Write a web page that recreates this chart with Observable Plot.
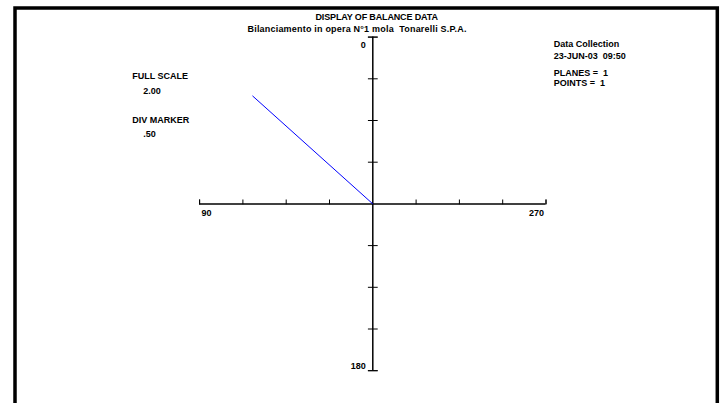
<!DOCTYPE html>
<html><head><meta charset="utf-8">
<script src="https://cdn.jsdelivr.net/npm/d3@7"></script>
<script src="https://cdn.jsdelivr.net/npm/@observablehq/plot@0.6"></script>
<style>body{margin:0;background:#fff}#chart svg{display:block}</style>
</head><body><div id="chart"></div>
<script>
// ---- data ----
const titleText = "DISPLAY OF BALANCE DATA";
const subtitleText = "Bilanciamento in opera N°1 mola  Tonarelli S.P.A.";
const angleLabels = ["0", "90", "180", "270"];
const labelAngles = [0, 90, 180, 270];
const fullScale = 2.00;
const divMarker = 0.50;
const pointAngles = [47];       // degrees, 0 at top, 90 to the left
const pointAmplitudes = [1.90];
const infoLines = ["Data Collection", "23-JUN-03  09:50", "PLANES =  1", "POINTS =  1"];
const scaleLines = ["FULL SCALE", d3.format(".2f")(fullScale), "DIV MARKER", d3.format(".2f")(divMarker).replace(/^0/, "")];

// ---- layout ----
const W = 722, H = 403;
const cx = 372.3, cy = 203.4;          // pixel centre of the polar cross
const pxX = 86.6, pxY = 83.4;          // pixels per unit
const rad = Math.PI / 180;
const toX = (a, r) => -r * Math.sin(a * rad);
const toY = (a, r) => r * Math.cos(a * rad);

const points = pointAngles.map((a, i) => ({a, r: pointAmplitudes[i]}));
const labels = angleLabels.map((t, i) => ({t, a: labelAngles[i]}));
const ticks = d3.range(-fullScale, fullScale + 1e-9, divMarker).filter(v => Math.abs(v) > 1e-9);

const font = "'Liberation Sans', Arial, Helvetica, sans-serif";
const tickShape = {draw(ctx, l) { ctx.moveTo(0, 0); ctx.lineTo(0, -l); }};

const leftPos = [[131.7, 75.7], [142.7, 91], [131.7, 119.3], [142.7, 133.3]];
const rightPos = [[553.3, 44], [553.3, 55.7], [553.3, 72.3], [553.3, 82.7]];

const txt = (s, x, y, extra = {}) => Plot.text([s], {text: d => d, frameAnchor: "top-left", dx: x, dy: y, textAnchor: "start", lineAnchor: "middle", fontWeight: "bold", fill: "black", ...extra});

const lab = (a, opts) => Plot.text(labels.filter(d => d.a === a), {
  x: d => toX(d.a, fullScale), y: d => toY(d.a, fullScale), text: "t",
  fontWeight: "bold", fill: "black", lineAnchor: "middle", ...opts
});

const chart = Plot.plot({
  width: W, height: H,
  margin: 0,
  style: {fontFamily: font, fontSize: "9px", background: "white"},
  x: {domain: [-cx / pxX, (W - cx) / pxX], axis: null},
  y: {domain: [-(H - cy) / pxY, cy / pxY], axis: null},
  marks: [
    Plot.frame({stroke: "black", strokeWidth: 3.5, insetLeft: 14.5, insetTop: 7.5, insetRight: 5.2, insetBottom: -10}),
    // axes of the cross
    Plot.ruleY([0], {x1: -fullScale, x2: fullScale, stroke: "black", strokeWidth: 1.5}),
    Plot.ruleX([0], {y1: -fullScale, y2: fullScale, stroke: "black", strokeWidth: 1.5}),
    // horizontal ticks (upward)
    Plot.vector([-fullScale, ...ticks, fullScale], {x: d => d, y: 0, length: 4, rotate: 0, anchor: "start", shape: tickShape, stroke: "black", strokeWidth: 1}),
    // vertical ticks (crossing)
    Plot.vector([-fullScale, ...ticks, fullScale], {x: 0, y: d => d, length: 9, rotate: 90, anchor: "middle", shape: tickShape, stroke: "black", strokeWidth: 1}),
    // balance vector
    Plot.link(points, {x1: 0, y1: 0, x2: d => toX(d.a, d.r), y2: d => toY(d.a, d.r), stroke: "#0000ff", strokeWidth: 1}),
    // angle labels
    lab(0, {textAnchor: "end", dx: -7, dy: 8}),
    lab(90, {textAnchor: "start", dx: 2, dy: 9}),
    lab(180, {textAnchor: "end", dx: -7, dy: -5}),
    lab(270, {textAnchor: "end", dx: -2, dy: 9}),
    txt(titleText, 315, 17),
    txt(subtitleText, 247, 29),
    ...scaleLines.map((s, i) => txt(s, leftPos[i][0], leftPos[i][1])),
    ...infoLines.map((s, i) => txt(s, rightPos[i][0], rightPos[i][1]))
  ]
});
chart.querySelectorAll("text").forEach(t => {
  if (t.textContent === subtitleText) t.setAttribute("letter-spacing", "0.2");
  if (t.textContent === titleText) t.setAttribute("letter-spacing", "-0.15");
});
document.getElementById("chart").append(chart);
</script>
</body></html>
